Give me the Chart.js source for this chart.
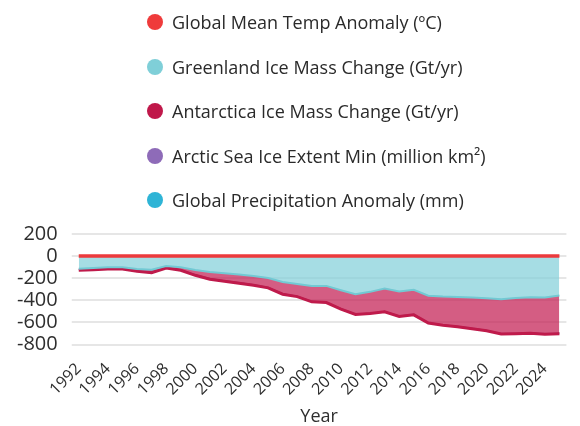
<!DOCTYPE html>
<html>
<head>
<meta charset="utf-8">
<script src="https://cdn.jsdelivr.net/npm/chart.js@4"></script>
<style>
  body { margin: 0; background: #fff; }
  #wrap { position: relative; width: 580px; height: 426px; }
  #chart { position: absolute; left: 0; top: 0; }
  #legend { position: absolute; left: 147px; top: 0; margin: 0; padding: 0; list-style: none;
            font-family: "Open Sans", sans-serif; font-size: 18px; color: #2a2a2a; }
  #legend li { height: 44.5px; line-height: 44.5px; white-space: nowrap; }
  #legend span.dot { display: inline-block; width: 16px; height: 16px; border-radius: 50%;
                     vertical-align: middle; margin-right: 9px; position: relative; top: -2px; }
</style>
</head>
<body>
<div id="wrap">
  <canvas id="chart" width="580" height="426"></canvas>
  <ul id="legend"></ul>
</div>
<script>
const years = ['1992','1993','1994','1995','1996','1997','1998','1999','2000','2001','2002',
    '2003','2004','2005','2006','2007','2008','2009','2010','2011','2012','2013','2014','2015',
    '2016','2017','2018','2019','2020','2021','2022','2023','2024','2025'];

const tempAnomaly = [0.23,0.29,0.31,0.45,0.33,0.46,0.61,0.38,0.39,0.54,0.63,0.62,0.54,0.68,0.64,0.66,0.54,
    0.65,0.72,0.61,0.65,0.68,0.75,0.90,1.01,0.92,0.85,0.98,1.01,0.85,0.89,1.17,1.29,1.20];

const greenland = [-115,-108,-102,-102,-117,-123,-90,-102,-126,-144,-156,-168,-180,-198,-234,-252,-270,
    -270,-309,-345,-324,-294,-321,-306,-360,-367,-370,-376,-382,-391,-379,-373,-376,-358];

const antarctica = [-14,-15,-15,-15,-21,-27,-18,-27,-48,-66,-72,-78,-84,-90,-111,-115,-144,
    -151,-172,-184,-196,-211,-226,-226,-247,-260,-270,-282,-294,-315,-324,-327,-333,-345];

const arcticIce = [7.5,6.5,7.2,6.1,7.9,6.7,6.5,6.2,6.3,6.8,6.0,6.2,6.1,5.6,5.9,4.3,4.7,
    5.4,4.9,4.6,3.6,5.2,5.2,4.6,4.7,4.9,4.8,4.3,4.0,4.9,4.9,4.4,4.3,4.6];

const precipAnomaly = [-3,2,-1,4,-2,5,3,-4,1,2,-1,3,0,2,-2,1,3,
    -1,4,2,-3,1,2,5,3,-1,2,4,1,3,-2,4,5,3];

const yTicks = { min: -800, max: 200, step: 200 };

const FONT = '"Open Sans", sans-serif';
const TEXT = '#2e2e2e';
const GRID = '#e6e6e6';

const chart = new Chart(document.getElementById('chart'), {
    type: 'line',
    data: {
        labels: years,
        datasets: [
            { label: 'Global Mean Temp Anomaly (ºC)', data: tempAnomaly, legendColor: '#ef3b3b',
              borderColor: '#ec3a3d', borderWidth: 3.5, fill: false },
            { label: 'Greenland Ice Mass Change (Gt/yr)', data: greenland, legendColor: '#7fcfd8',
              borderColor: '#72c9d3', backgroundColor: 'rgba(128,206,216,0.7)', borderWidth: 2, fill: '-1' },
            { label: 'Antarctica Ice Mass Change (Gt/yr)', data: antarctica, legendColor: '#c0184a',
              borderColor: '#bf1a4b', backgroundColor: 'rgba(194,24,78,0.7)', borderWidth: 3, fill: '-1' },
            { label: 'Arctic Sea Ice Extent Min (million km²)', data: arcticIce, legendColor: '#8e6bb8',
              borderColor: '#8e6bb8', borderWidth: 1, fill: false },
            { label: 'Global Precipitation Anomaly (mm)', data: precipAnomaly, legendColor: '#2eb4d6',
              borderColor: 'rgba(46,180,214,0.4)', borderWidth: 1, fill: false },
        ]
    },
    options: {
        responsive: false,
        animation: false,
        elements: { point: { radius: 0 }, line: { tension: 0 } },
        layout: { padding: { top: 234, left: 3, right: 8, bottom: 0 } },
        plugins: {
            legend: { display: false },
            tooltip: { enabled: false }
        },
        scales: {
            x: {
                stacked: true,
                grid: { display: false },
                border: { display: false },
                ticks: {
                    autoSkip: false,
                    maxRotation: 45,
                    minRotation: 45,
                    padding: 7,
                    color: TEXT,
                    font: { family: FONT, size: 16 },
                    callback(val, i) { return i % 2 === 0 ? years[i] : ''; }
                },
                title: { display: true, text: 'Year', color: TEXT,
                         font: { family: FONT, size: 18, lineHeight: 1 },
                         padding: { top: 2, bottom: 0 } }
            },
            y: {
                stacked: 'single',
                min: yTicks.min,
                max: yTicks.max,
                border: { display: false },
                grid: { color: GRID, lineWidth: 2, tickLength: 7 },
                ticks: { stepSize: yTicks.step, autoSkip: false, padding: 14, color: TEXT,
                         font: { family: FONT, size: 20 } }
            },
            y1: {
                position: 'right',
                min: yTicks.min,
                max: yTicks.max,
                border: { display: false },
                grid: { color: GRID, lineWidth: 2, tickLength: 7, drawOnChartArea: false },
                ticks: { stepSize: yTicks.step, autoSkip: false, display: false, padding: 0 },
                afterFit(scale) { scale.width = 7; }
            }
        }
    }
});

// legend drawn as html so every row lines up on the left
document.getElementById('legend').innerHTML = chart.data.datasets
    .map(ds => `<li><span class="dot" style="background:${ds.legendColor}"></span>${ds.label}</li>`)
    .join('');
</script>
</body>
</html>
